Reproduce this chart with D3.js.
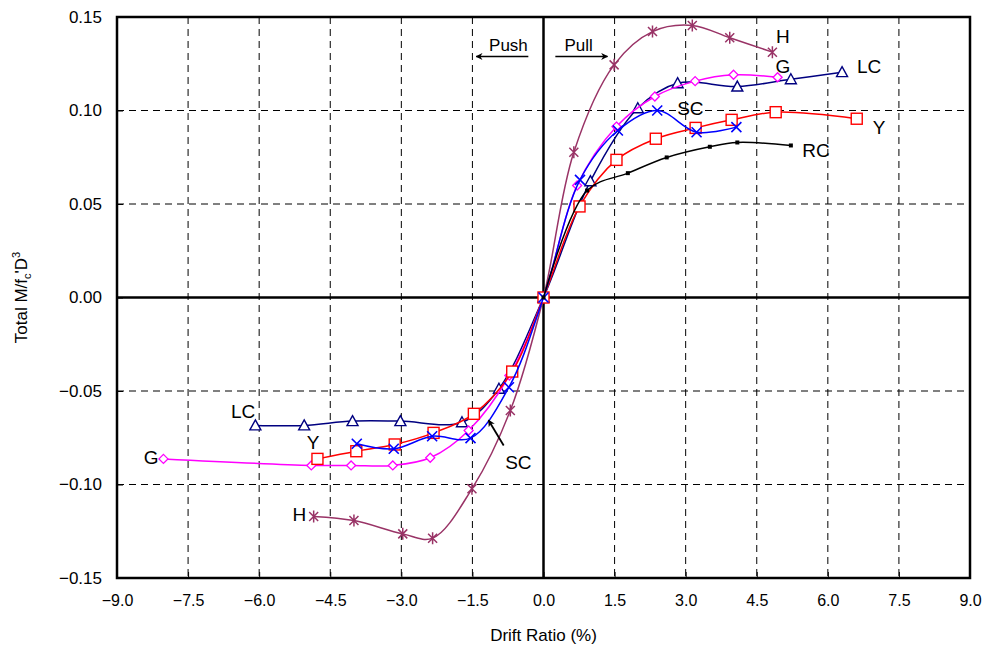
<!DOCTYPE html>
<html>
<head>
<meta charset="utf-8">
<script src="https://cdn.jsdelivr.net/npm/d3@7"></script>
<style>
  body { margin: 0; background: #fff; }
  text { font-family: "Liberation Sans", Arial, sans-serif; fill: #000; }
  .grid line { stroke: #000; stroke-width: 1; stroke-dasharray: 7,5; }
</style>
</head>
<body>
<div id="chart"></div>
<script>
// drift ratio (%) and total M/f'c D^3, push side -> pull side
const hDrift  = [-4.85, -4.0, -2.97, -2.34, -1.51, -0.70, 0, 0.64, 1.49, 2.30, 3.14, 3.93, 4.83];
const hMoment = [-0.1171, -0.1193, -0.1264, -0.1287, -0.1023, -0.0604, 0, 0.0777, 0.1244, 0.1422, 0.1455, 0.1389, 0.1312];

const lcDrift  = [-6.08, -5.05, -4.03, -3.02, -1.72, -0.94, 0, 0.99, 1.99, 2.83, 4.09, 5.22, 6.30];
const lcMoment = [-0.0684, -0.0684, -0.0661, -0.0661, -0.0667, -0.0488, 0, 0.0622, 0.1012, 0.1146, 0.1128, 0.1167, 0.1205];

const gDrift  = [-8.02, -4.90, -4.06, -3.18, -2.39, -1.58, -0.72, 0, 0.71, 1.54, 2.35, 3.20, 4.01, 4.94];
const gMoment = [-0.0863, -0.0898, -0.0898, -0.0898, -0.0857, -0.0711, -0.0417, 0, 0.0599, 0.0914, 0.1075, 0.1157, 0.1191, 0.1178];

const scDrift  = [-3.94, -3.16, -2.35, -1.54, -0.73, 0, 0.77, 1.57, 2.40, 3.23, 4.07];
const scMoment = [-0.0782, -0.0809, -0.0742, -0.0752, -0.0480, 0, 0.0629, 0.0893, 0.1000, 0.0884, 0.0911];

const yDrift  = [-4.77, -3.95, -3.14, -2.32, -1.47, -0.66, 0, 0.76, 1.54, 2.37, 3.21, 3.97, 4.90, 6.61];
const yMoment = [-0.0863, -0.0822, -0.0786, -0.0724, -0.0622, -0.0396, 0, 0.0487, 0.0736, 0.0849, 0.0907, 0.0950, 0.0991, 0.0956];

const rcDrift  = [0, 0.92, 1.78, 2.60, 3.51, 4.09, 5.22];
const rcMoment = [0, 0.0572, 0.0665, 0.0749, 0.0806, 0.0829, 0.0813];

const xTicks = [-9.0, -7.5, -6.0, -4.5, -3.0, -1.5, 0.0, 1.5, 3.0, 4.5, 6.0, 7.5, 9.0];
const yTicks = [-0.15, -0.10, -0.05, 0.00, 0.05, 0.10, 0.15];

const series = [
    { name: "H",  drift: hDrift,  moment: hMoment,  color: "#993366", marker: "star" },
    { name: "LC", drift: lcDrift, moment: lcMoment, color: "#000080", marker: "triangle" },
    { name: "G",  drift: gDrift,  moment: gMoment,  color: "#ff00ff", marker: "diamond" },
    { name: "Y",  drift: yDrift,  moment: yMoment,  color: "#ff0000", marker: "square" },
    { name: "SC", drift: scDrift, moment: scMoment, color: "#0000ff", marker: "cross" },
    { name: "RC", drift: rcDrift, moment: rcMoment, color: "#000000", marker: "dot" }
];

// series labels written on the plot, in data units
const labelText = ["H", "G", "LC", "SC", "Y", "RC", "LC", "Y", "G", "H", "SC"];
const labelX    = [5.05, 5.05, 6.87, 3.10, 7.08, 5.75, -6.34, -4.86, -8.28, -5.15, -0.53];
const labelY    = [0.140, 0.1235, 0.1235, 0.101, 0.091, 0.0786, -0.061, -0.0775, -0.0856, -0.116, -0.088];

const margin = { top: 17, right: 22, bottom: 74, left: 117 };
const width = 992 - margin.left - margin.right;
const height = 652 - margin.top - margin.bottom;

const svg = d3.select("#chart").append("svg")
    .attr("width", 992)
    .attr("height", 652)
    .append("g")
    .attr("transform", "translate(" + margin.left + "," + margin.top + ")");

const x = d3.scaleLinear().domain([-9, 9]).range([0, width]);
const y = d3.scaleLinear().domain([-0.15, 0.15]).range([height, 0]);

// dashed grid
svg.append("g").attr("class", "grid")
    .selectAll("line")
    .data(xTicks.filter(d => d !== 0 && Math.abs(d) !== 9))
    .enter().append("line")
    .attr("x1", d => x(d)).attr("x2", d => x(d))
    .attr("y1", 0).attr("y2", height);

svg.append("g").attr("class", "grid")
    .selectAll("line")
    .data(yTicks.filter(d => d !== 0 && Math.abs(d) < 0.149))
    .enter().append("line")
    .attr("x1", 0).attr("x2", width)
    .attr("y1", d => y(d)).attr("y2", d => y(d));

// axes with inward ticks
const xAxis = d3.axisBottom(x).tickValues(xTicks).tickSize(-6).tickPadding(20)
    .tickFormat(d3.format(".1f"));
const yAxis = d3.axisLeft(y).tickValues(yTicks).tickSize(-6).tickPadding(15)
    .tickFormat(d3.format(".2f"));

const gx = svg.append("g").attr("transform", "translate(0," + height + ")").call(xAxis);
const gy = svg.append("g").call(yAxis);
[gx, gy].forEach(function(g) {
    g.select(".domain").remove();
    g.selectAll(".tick line").attr("stroke", "#000").attr("stroke-width", 1);
    g.selectAll("text").style("font-family", "'Liberation Sans', Arial, sans-serif")
        .style("font-size", "16px").attr("fill", "#000");
});
gx.selectAll("text").attr("dy", "0.5em");
gy.selectAll("text").style("font-size", "17px");

// zero lines and frame
svg.append("line").attr("x1", x(0)).attr("x2", x(0)).attr("y1", 0).attr("y2", height)
    .attr("stroke", "#000").attr("stroke-width", 2.5);
svg.append("line").attr("x1", 0).attr("x2", width).attr("y1", y(0)).attr("y2", y(0))
    .attr("stroke", "#000").attr("stroke-width", 2.5);
svg.append("rect").attr("width", width).attr("height", height)
    .attr("fill", "none").attr("stroke", "#000").attr("stroke-width", 2.5);

// curves
const line = d3.line()
    .x(d => x(d[0]))
    .y(d => y(d[1]))
    .curve(d3.curveCatmullRom.alpha(0.5));

function drawMarker(g, type, color) {
    if (type === "triangle") {
        g.append("path").attr("d", "M0,-5.5L5.5,4.5L-5.5,4.5Z")
            .attr("fill", "#fff").attr("stroke", color).attr("stroke-width", 1.4);
    } else if (type === "square") {
        g.append("rect").attr("x", -5.5).attr("y", -5.5).attr("width", 11).attr("height", 11)
            .attr("fill", "#fff").attr("stroke", color).attr("stroke-width", 1.4);
    } else if (type === "diamond") {
        g.append("path").attr("d", "M0,-4.5L4.5,0L0,4.5L-4.5,0Z")
            .attr("fill", "#fff").attr("stroke", color).attr("stroke-width", 1.3);
    } else if (type === "cross") {
        g.append("path").attr("d", "M-5,-5L5,5M-5,5L5,-5")
            .attr("fill", "none").attr("stroke", color).attr("stroke-width", 1.6);
    } else if (type === "star") {
        g.append("path").attr("d", "M-4.5,-4.5L4.5,4.5M-4.5,4.5L4.5,-4.5M0,-6L0,6")
            .attr("fill", "none").attr("stroke", color).attr("stroke-width", 1.5);
    } else if (type === "dot") {
        g.append("rect").attr("x", -2).attr("y", -2).attr("width", 4).attr("height", 4)
            .attr("fill", color);
    }
}

series.forEach(function(s) {
    const pts = s.drift.map((d, i) => [d, s.moment[i]]);
    svg.append("path")
        .datum(pts)
        .attr("fill", "none")
        .attr("stroke", s.color)
        .attr("stroke-width", 1.5)
        .attr("d", line);

    pts.forEach(function(p) {
        const g = svg.append("g").attr("transform", "translate(" + x(p[0]) + "," + y(p[1]) + ")");
        drawMarker(g, s.marker, s.color);
    });
});

// series labels
labelText.forEach(function(t, i) {
    svg.append("text")
        .attr("x", x(labelX[i]))
        .attr("y", y(labelY[i]))
        .attr("text-anchor", "middle")
        .attr("dy", "0.36em")
        .style("font-size", "19px")
        .text(t);
});

// arrows
const defs = svg.append("defs");
defs.append("marker")
    .attr("id", "head")
    .attr("viewBox", "0 0 10 10")
    .attr("refX", 9).attr("refY", 5)
    .attr("markerWidth", 7).attr("markerHeight", 7)
    .attr("markerUnits", "userSpaceOnUse")
    .attr("orient", "auto")
    .append("path").attr("d", "M0,0L10,5L0,10L3,5Z").attr("fill", "#000");

function arrow(x1, y1, x2, y2, w) {
    svg.append("line")
        .attr("x1", x(x1)).attr("y1", y(y1))
        .attr("x2", x(x2)).attr("y2", y(y2))
        .attr("stroke", "#000").attr("stroke-width", w)
        .attr("marker-end", "url(#head)");
}

arrow(-0.84, -0.0791, -1.16, -0.0656, 1.8);
arrow(-0.32, 0.1289, -1.42, 0.1289, 1.5);
arrow(0.25, 0.1289, 1.35, 0.1289, 1.5);

svg.append("text").attr("x", x(-0.74)).attr("y", y(0.1353)).attr("text-anchor", "middle")
    .attr("dy", "0.36em").style("font-size", "17px").text("Push");
svg.append("text").attr("x", x(0.74)).attr("y", y(0.1353)).attr("text-anchor", "middle")
    .attr("dy", "0.36em").style("font-size", "17px").text("Pull");

// axis titles
svg.append("text")
    .attr("x", width / 2)
    .attr("y", height + 63)
    .attr("text-anchor", "middle")
    .style("font-size", "17px")
    .text("Drift Ratio (%)");

const yt = svg.append("text")
    .attr("transform", "translate(-90," + (height / 2) + ") rotate(-90)")
    .attr("text-anchor", "middle")
    .style("font-size", "17px");
yt.append("tspan").text("Total M/f");
yt.append("tspan").attr("dy", 4).style("font-size", "11px").text("c");
yt.append("tspan").attr("dy", -4).text("'D");
yt.append("tspan").attr("dy", -7).style("font-size", "11px").text("3");
</script>
</body>
</html>
